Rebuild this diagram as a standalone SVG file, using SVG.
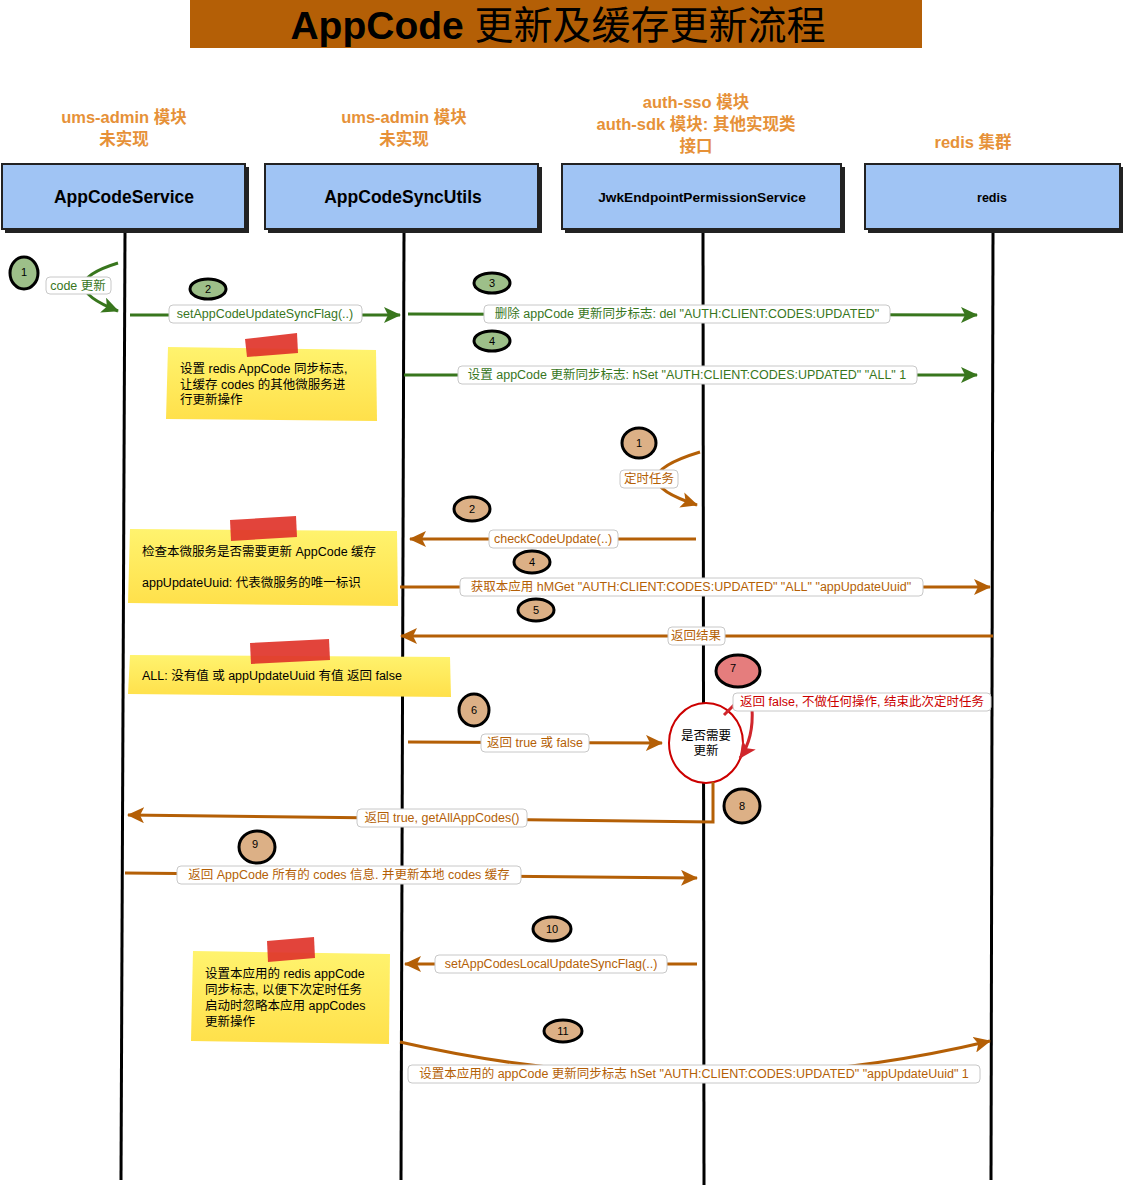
<svg xmlns="http://www.w3.org/2000/svg" width="1123" height="1185" viewBox="0 0 1123 1185">
<defs>
<style>
.hdr{font-family:"Liberation Sans","Noto Sans CJK SC",sans-serif;font-size:16.5px;fill:#e69138;text-anchor:middle;font-weight:bold}
.box{fill:#a0c4f4;stroke:#222;stroke-width:2}
.shadow{fill:#222}
.bt{font-family:"Liberation Sans","Noto Sans",sans-serif;font-weight:bold;fill:#000;text-anchor:middle}
.life{stroke:#000;stroke-width:3;fill:none}
.g{stroke:#38761d;stroke-width:3;fill:none}
.o{stroke:#b45f06;stroke-width:3;fill:none}
.r{stroke:#d0262c;stroke-width:3;fill:none}
.lb{fill:#fff;stroke:#c8c8c8;stroke-width:1}
.lt{font-family:"Liberation Sans","Noto Sans CJK SC",sans-serif;font-size:12.5px;text-anchor:middle}
.lg{fill:#38761d}.lo{fill:#b45f06}.lr{fill:#cc0000}
.bdg{stroke:#000;stroke-width:3}
.bg{fill:#9dbf89}.bo{fill:#dcb086}.br{fill:#e57d7d}
.bn{font-family:"Liberation Sans",sans-serif;font-size:11px;fill:#000;text-anchor:middle}
.note{fill:url(#ny)}
.tape{fill:#e0342a;opacity:0.92}
.nt{font-family:"Liberation Sans","Noto Sans CJK SC",sans-serif;font-size:12.5px;fill:#000}
</style>
<linearGradient id="ny" x1="0" y1="0" x2="0" y2="1">
<stop offset="0" stop-color="#fff36e"/>
<stop offset="1" stop-color="#ffe04a"/>
</linearGradient>
<marker id="ag" markerUnits="userSpaceOnUse" markerWidth="18" markerHeight="16" refX="16" refY="8" orient="auto"><path d="M0,0 L17,8 L0,16 L4,8 Z" fill="#38761d"/></marker>
<marker id="ao" markerUnits="userSpaceOnUse" markerWidth="18" markerHeight="16" refX="16" refY="8" orient="auto"><path d="M0,0 L17,8 L0,16 L4,8 Z" fill="#b45f06"/></marker>
<marker id="ar" markerUnits="userSpaceOnUse" markerWidth="18" markerHeight="16" refX="16" refY="8" orient="auto"><path d="M0,0 L17,8 L0,16 L4,8 Z" fill="#d0262c"/></marker>
</defs>
<rect width="1123" height="1185" fill="#fff"/>

<g id="title">
<rect x="190" y="0" width="732" height="48" fill="#b45f06"/>
<text x="558" y="39" text-anchor="middle" font-family="Liberation Sans,Noto Sans CJK SC,sans-serif" font-size="39" fill="#000"><tspan font-weight="bold">AppCode</tspan> 更新及缓存更新流程</text>
</g>

<g id="headers">
<text class="hdr" x="124" y="123">ums-admin 模块</text>
<text class="hdr" x="124" y="145">未实现</text>
<text class="hdr" x="404" y="123">ums-admin 模块</text>
<text class="hdr" x="404" y="145">未实现</text>
<text class="hdr" x="696" y="108">auth-sso 模块</text>
<text class="hdr" x="696" y="130">auth-sdk 模块: 其他实现类</text>
<text class="hdr" x="696" y="152">接口</text>
<text class="hdr" x="973" y="148">redis 集群</text>
</g>

<g id="lifelines">
<path class="life" d="M125,232 L121,1180"/>
<path class="life" d="M404,232 L401,1180"/>
<path class="life" d="M703,232 L704,1185"/>
<path class="life" d="M993,232 L991,1180"/>
</g>

<g id="node-appcodeservice">
<rect class="shadow" x="5" y="167" width="244" height="66"/>
<rect class="box" x="2" y="164" width="243" height="65"/>
<text class="bt" x="124" y="203" font-size="17.5">AppCodeService</text>
</g>
<g id="node-appcodesyncutils">
<rect class="shadow" x="268" y="167" width="274" height="66"/>
<rect class="box" x="265" y="164" width="273" height="65"/>
<text class="bt" x="403" y="203" font-size="17.5">AppCodeSyncUtils</text>
</g>
<g id="node-jwk">
<rect class="shadow" x="565" y="167" width="280" height="66"/>
<rect class="box" x="562" y="164" width="279" height="65"/>
<text class="bt" x="702" y="202" font-size="13.7">JwkEndpointPermissionService</text>
</g>
<g id="node-redis">
<rect class="shadow" x="868" y="167" width="255" height="66"/>
<rect class="box" x="865" y="164" width="255" height="65"/>
<text class="bt" x="992" y="202" font-size="12.5">redis</text>
</g>

<g id="notes">
<polygon class="note" points="168,347 376,350 377,421 166,419"/>
<polygon class="tape" points="245,339 297,333 298,353 247,357"/>
<text class="nt" x="180" y="373">设置 redis AppCode 同步标志,</text>
<text class="nt" x="180" y="389">让缓存 codes 的其他微服务进</text>
<text class="nt" x="180" y="404">行更新操作</text>

<polygon class="note" points="130,529 397,531 398,606 128,603"/>
<polygon class="tape" points="230,520 296,516 297,537 231,541"/>
<text class="nt" x="142" y="556">检查本微服务是否需要更新 AppCode 缓存</text>
<text class="nt" x="142" y="587">appUpdateUuid: 代表微服务的唯一标识</text>

<polygon class="note" points="130,655 450,657 451,697 128,694"/>
<polygon class="tape" points="250,643 329,639 330,660 251,664"/>
<text class="nt" x="142" y="680">ALL: 没有值 或 appUpdateUuid 有值 返回 false</text>

<polygon class="note" points="193,951 390,954 389,1044 191,1041"/>
<polygon class="tape" points="267,941 314,937 315,958 268,962"/>
<text class="nt" x="205" y="978">设置本应用的 redis appCode</text>
<text class="nt" x="205" y="994">同步标志, 以便下次定时任务</text>
<text class="nt" x="205" y="1010">启动时忽略本应用 appCodes</text>
<text class="nt" x="205" y="1026">更新操作</text>
</g>

<g id="decision">
<ellipse cx="706" cy="743" rx="37" ry="40" fill="#fff" stroke="#cc0000" stroke-width="2"/>
<text class="nt" x="706" y="740" text-anchor="middle">是否需要</text>
<text class="nt" x="706" y="755" text-anchor="middle">更新</text>
</g>

<g id="connectors">
<path class="g" d="M118,263 Q 50,284 118,311" marker-end="url(#ag)"/>
<rect class="lb" x="46" y="277" width="65" height="17" rx="4"/>
<text class="lt lg" x="78" y="290">code 更新</text>

<path class="g" d="M130,315 L400,315" marker-end="url(#ag)"/>
<rect class="lb" x="169" y="305" width="193" height="18" rx="4"/>
<text class="lt lg" x="265" y="318">setAppCodeUpdateSyncFlag(..)</text>

<path class="g" d="M408,314 L977,315" marker-end="url(#ag)"/>
<rect class="lb" x="484" y="305" width="406" height="18" rx="4"/>
<text class="lt lg" x="687" y="318">删除 appCode 更新同步标志: del "AUTH:CLIENT:CODES:UPDATED"</text>

<path class="g" d="M404,375 L977,375" marker-end="url(#ag)"/>
<rect class="lb" x="458" y="366" width="459" height="18" rx="4"/>
<text class="lt lg" x="687" y="379">设置 appCode 更新同步标志: hSet "AUTH:CLIENT:CODES:UPDATED" "ALL"  1</text>

<path class="o" d="M700,452 Q 615,478 697,505" marker-end="url(#ao)"/>
<rect class="lb" x="620" y="470" width="58" height="18" rx="4"/>
<text class="lt lo" x="649" y="483">定时任务</text>

<path class="o" d="M696,539 L410,539" marker-end="url(#ao)"/>
<rect class="lb" x="489" y="530" width="129" height="18" rx="4"/>
<text class="lt lo" x="553" y="543">checkCodeUpdate(..)</text>

<path class="o" d="M400,587 L990,587" marker-end="url(#ao)"/>
<rect class="lb" x="460" y="578" width="463" height="18" rx="4"/>
<text class="lt lo" x="691" y="591">获取本应用 hMGet "AUTH:CLIENT:CODES:UPDATED" "ALL"  "appUpdateUuid"</text>

<path class="o" d="M993,636 L401,636" marker-end="url(#ao)"/>
<rect class="lb" x="668" y="627" width="57" height="18" rx="4"/>
<text class="lt lo" x="696" y="640">返回结果</text>

<path class="o" d="M408,742 L662,743" marker-end="url(#ao)"/>
<rect class="lb" x="481" y="734" width="108" height="18" rx="4"/>
<text class="lt lo" x="535" y="747">返回 true 或 false</text>

<path class="r" d="M724,715 L740,699"/>
<path class="r" d="M752,708 Q 754,738 740,758" marker-end="url(#ar)"/>
<rect class="lb" x="733" y="693" width="258" height="18" rx="4"/>
<text class="lt lr" x="862" y="706">返回 false, 不做任何操作, 结束此次定时任务</text>

<path class="o" d="M713,782 L713,822 L128,815" marker-end="url(#ao)"/>
<rect class="lb" x="357" y="809" width="170" height="18" rx="4"/>
<text class="lt lo" x="442" y="822">返回 true, getAllAppCodes()</text>

<path class="o" d="M125,873 L697,878" marker-end="url(#ao)"/>
<rect class="lb" x="177" y="866" width="344" height="18" rx="4"/>
<text class="lt lo" x="349" y="879">返回 AppCode 所有的 codes 信息. 并更新本地 codes 缓存</text>

<path class="o" d="M697,964 L405,964" marker-end="url(#ao)"/>
<rect class="lb" x="435" y="955" width="232" height="18" rx="4"/>
<text class="lt lo" x="551" y="968">setAppCodesLocalUpdateSyncFlag(..)</text>

<path class="o" d="M400,1042 Q 700,1110 990,1041" marker-end="url(#ao)"/>
<rect class="lb" x="408" y="1065" width="572" height="18" rx="4"/>
<text class="lt lo" x="694" y="1078">设置本应用的 appCode 更新同步标志 hSet "AUTH:CLIENT:CODES:UPDATED" "appUpdateUuid" 1</text>
</g>

<g id="badges">
<g id="b-g1"><ellipse class="bdg bg" cx="24" cy="273" rx="14" ry="16"/><text class="bn" x="24" y="276">1</text></g>
<g id="b-g2"><ellipse class="bdg bg" cx="208" cy="289" rx="18" ry="10"/><text class="bn" x="208" y="293">2</text></g>
<g id="b-g3"><ellipse class="bdg bg" cx="492" cy="283" rx="18" ry="10"/><text class="bn" x="492" y="287">3</text></g>
<g id="b-g4"><ellipse class="bdg bg" cx="492" cy="341" rx="18" ry="10"/><text class="bn" x="492" y="345">4</text></g>
<g id="b-o1"><ellipse class="bdg bo" cx="639" cy="443" rx="17" ry="15"/><text class="bn" x="639" y="447">1</text></g>
<g id="b-o2"><ellipse class="bdg bo" cx="472" cy="509" rx="18" ry="12"/><text class="bn" x="472" y="513">2</text></g>
<g id="b-o4"><ellipse class="bdg bo" cx="532" cy="562" rx="18" ry="11"/><text class="bn" x="532" y="566">4</text></g>
<g id="b-o5"><ellipse class="bdg bo" cx="536" cy="610" rx="18" ry="11"/><text class="bn" x="536" y="614">5</text></g>
<g id="b-o6"><ellipse class="bdg bo" cx="474" cy="710" rx="15" ry="16"/><text class="bn" x="474" y="714">6</text></g>
<g id="b-r7"><ellipse class="bdg br" cx="738" cy="671" rx="22" ry="16"/><text class="bn" x="733" y="672">7</text></g>
<g id="b-o8"><ellipse class="bdg bo" cx="742" cy="806" rx="18" ry="17"/><text class="bn" x="742" y="810">8</text></g>
<g id="b-o9"><ellipse class="bdg bo" cx="257" cy="847" rx="18" ry="16"/><text class="bn" x="255" y="848">9</text></g>
<g id="b-o10"><ellipse class="bdg bo" cx="552" cy="929" rx="19" ry="12"/><text class="bn" x="552" y="933">10</text></g>
<g id="b-o11"><ellipse class="bdg bo" cx="563" cy="1031" rx="19" ry="11"/><text class="bn" x="563" y="1035">11</text></g>
</g>
</svg>
